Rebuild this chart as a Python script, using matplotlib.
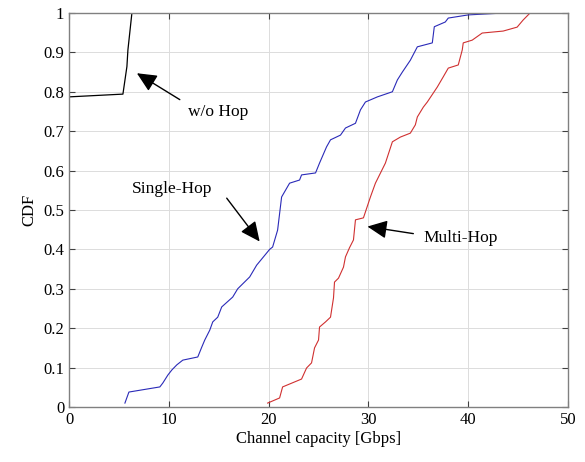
import numpy as np
import matplotlib
matplotlib.use("Agg")
import matplotlib.pyplot as plt

plt.rcParams['font.family'] = ['Liberation Serif', 'DejaVu Serif']

# CDF curves (x in Gbps, y = CDF)
wo_x = [0.0, 5.4, 5.8, 5.9, 6.3]
wo_y = [0.787, 0.794, 0.864, 0.906, 1.0]

single_x = [5.6, 6.0, 9.1, 9.4, 9.9, 10.3, 10.8, 11.4, 12.9, 13.3, 13.6, 14.1, 14.4, 14.9,
            15.3, 16.4, 16.9, 18.1, 18.8, 20.1, 20.4, 20.9, 21.3, 22.1, 23.1, 23.3, 24.7,
            25.1, 25.8, 26.2, 27.2, 27.7, 28.7, 29.2, 29.7, 30.9, 32.4, 32.9, 33.4, 34.2,
            34.9, 36.4, 36.6, 37.7, 38.0, 40.0, 43.7]
single_y = [0.010, 0.038, 0.051, 0.061, 0.081, 0.094, 0.107, 0.119, 0.127, 0.152, 0.170,
            0.195, 0.216, 0.228, 0.254, 0.279, 0.30, 0.33, 0.36, 0.40, 0.406, 0.449, 0.533,
            0.568, 0.576, 0.589, 0.594, 0.619, 0.66, 0.678, 0.69, 0.708, 0.72, 0.754, 0.774,
            0.787, 0.80, 0.83, 0.85, 0.88, 0.914, 0.924, 0.965, 0.977, 0.987, 0.995, 1.0]

multi_x = [19.9, 21.1, 21.4, 23.3, 23.8, 24.3, 24.6, 25.0, 25.1, 25.7, 26.2, 26.5, 26.6,
           27.0, 27.5, 27.7, 28.1, 28.5, 28.7, 29.5, 30.2, 30.7, 31.7, 32.4, 33.2, 34.2,
           34.7, 34.9, 35.5, 35.9, 36.9, 37.5, 38.0, 39.0, 39.4, 39.5, 40.4, 41.4, 43.5,
           44.9, 45.5, 46.2]
multi_y = [0.010, 0.023, 0.051, 0.071, 0.099, 0.112, 0.150, 0.170, 0.203, 0.216, 0.228,
           0.277, 0.317, 0.327, 0.355, 0.381, 0.404, 0.424, 0.475, 0.48, 0.533, 0.568, 0.619,
           0.673, 0.685, 0.695, 0.716, 0.736, 0.761, 0.774, 0.812, 0.838, 0.860, 0.868,
           0.906, 0.924, 0.931, 0.949, 0.954, 0.964, 0.982, 1.0]

xticks = [0, 10, 20, 30, 40, 50]
yticks = [0, 0.1, 0.2, 0.3, 0.4, 0.5, 0.6, 0.7, 0.8, 0.9, 1]
ytick_labels = ["0", "0.1", "0.2", "0.3", "0.4", "0.5", "0.6", "0.7", "0.8", "0.9", "1"]

fig = plt.figure(figsize=(5.85, 4.62), dpi=100)
ax = fig.add_axes([0.118, 0.119, 0.853, 0.853])

ax.plot(wo_x, wo_y, color="black", lw=0.9)
ax.plot(single_x, single_y, color="#2a2ab8", lw=0.8)
ax.plot(multi_x, multi_y, color="#d03030", lw=0.8)

ax.set_xlim(0, 50)
ax.set_ylim(0, 1)
ax.set_xticks(xticks)
ax.set_yticks(yticks)
ax.set_yticklabels(ytick_labels)
ax.grid(True, color="#dcdcdc", lw=0.7)
ax.tick_params(direction="in", top=True, right=True, labelsize=12, length=4, color="#404040")
for s in ax.spines.values():
    s.set_color("#808080")
    s.set_linewidth(1.0)

ax.set_xlabel("Channel capacity [Gbps]", fontsize=12, labelpad=2)
ax.set_ylabel("CDF", fontsize=12, labelpad=4)

# MATLAB-like annotation arrows
arrow = dict(arrowstyle="-|>,head_length=0.75,head_width=0.35", color="black", lw=1.0,
             mutation_scale=16, shrinkA=0, shrinkB=0)
ax.annotate("", xy=(6.8, 0.847), xytext=(11.1, 0.78), arrowprops=arrow)
ax.text(14.9, 0.749, "w/o Hop", fontsize=12.5, ha="center", va="center")
ax.annotate("", xy=(19.1, 0.42), xytext=(15.8, 0.53), arrowprops=arrow)
ax.text(10.3, 0.552, "Single-Hop", fontsize=12.5, ha="center", va="center")
ax.annotate("", xy=(29.9, 0.458), xytext=(34.5, 0.44), arrowprops=arrow)
ax.text(39.2, 0.43, "Multi-Hop", fontsize=12.5, ha="center", va="center")

fig.savefig("out.png", dpi=100)
